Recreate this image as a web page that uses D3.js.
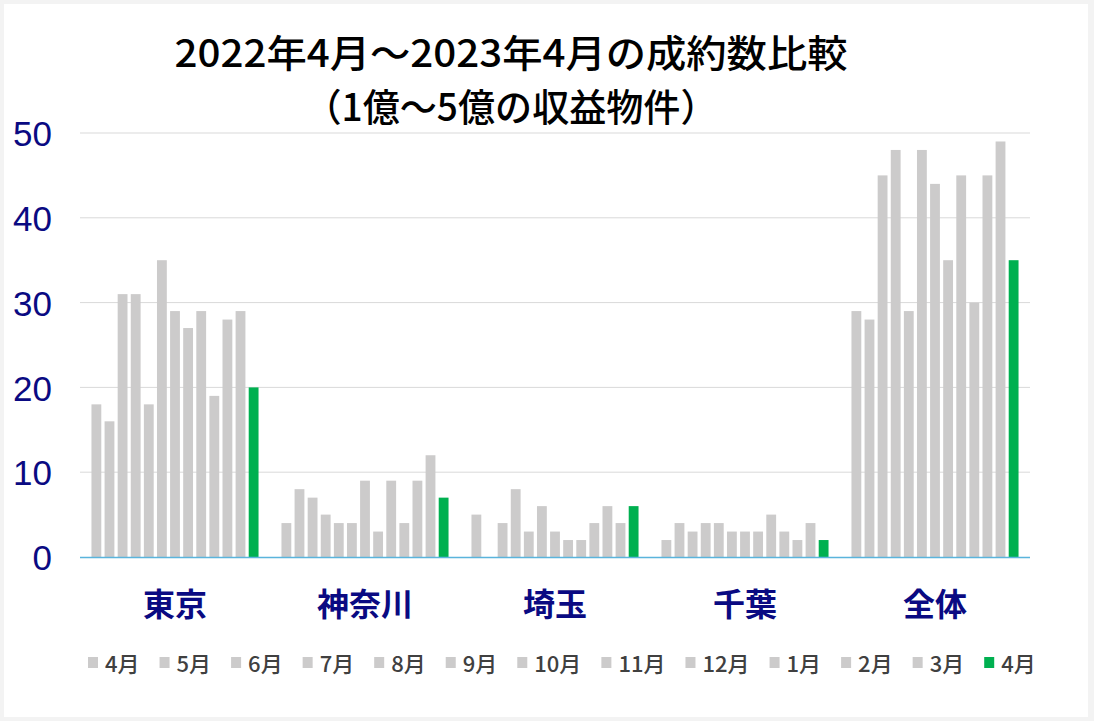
<!DOCTYPE html>
<html><head><meta charset="utf-8">
<script src="https://cdn.jsdelivr.net/npm/d3@7"></script>
<style>
html,body{margin:0;padding:0;background:#f3f3f3;}
svg{display:block;}
</style></head>
<body>
<svg id="c" width="1094" height="721"></svg>
<script>
const categories = ["東京","神奈川","埼玉","千葉","全体"];
const months = ["4月","5月","6月","7月","8月","9月","10月","11月","12月","1月","2月","3月","4月"];
const tokyo    = [18,16,31,31,18,35,29,27,29,19,28,29,20];
const kanagawa = [4,8,7,5,4,4,9,3,9,4,9,12,7];
const saitama  = [5,0,4,8,3,6,3,2,2,4,6,4,6];
const chiba    = [2,4,3,4,4,3,3,3,5,3,2,4,2];
const total    = [29,28,45,48,29,48,44,35,45,30,45,49,35];
const yTicks = [0,10,20,30,40,50];
const titleLines = ["2022年4月～2023年4月の成約数比較","（1億～5億の収益物件）"];

const series = [tokyo,kanagawa,saitama,chiba,total];
const grey = "#cccbcb", green = "#00b050", navy = "#0a0a82";

const svg = d3.select("#c");
svg.append("rect").attr("x",4).attr("y",4).attr("width",1084).attr("height",713).attr("fill","#fff");

const x0 = d3.scaleBand().domain(categories).range([80,1030]);
const x1 = d3.scaleBand().domain(d3.range(months.length)).range([0,x0.bandwidth()]).paddingInner(0.25).paddingOuter(0.875);
const y = d3.scaleLinear().domain([0,50]).range([557,133]);

// gridlines
svg.append("g").selectAll("line").data(yTicks.filter(d=>d>0)).join("line")
  .attr("x1",80).attr("x2",1030).attr("y1",d=>y(d)).attr("y2",d=>y(d))
  .attr("stroke","#d9d9d9").attr("stroke-width",1);

// y labels
const yAxis = d3.axisLeft(y).tickValues(yTicks).tickSize(0).tickPadding(0);
const ga = svg.append("g").attr("transform","translate(52,0)").call(yAxis);
ga.select(".domain").remove();
ga.selectAll("text").attr("fill",navy).style("font-family","'Liberation Sans',Arial,sans-serif")
  .style("font-size","35px").attr("dy","0.36em");

// bars
const groups = svg.append("g").selectAll("g").data(categories).join("g")
  .attr("transform",d=>`translate(${x0(d)},0)`);
groups.selectAll("rect").data((d,i)=>series[i].map((v,j)=>({v,j}))).join("rect")
  .attr("x",d=>x1(d.j)).attr("width",x1.bandwidth())
  .attr("y",d=>y(d.v)).attr("height",d=>y(0)-y(d.v))
  .attr("fill",d=>d.j===months.length-1?green:grey);

// baseline
svg.append("line").attr("x1",80).attr("x2",1030).attr("y1",y(0)+0.5).attr("y2",y(0)+0.5)
  .attr("stroke","#5ab4dc").attr("stroke-width",1.5);

// category labels
svg.append("g").selectAll("text").data(categories).join("text")
  .attr("x",d=>x0(d)+x0.bandwidth()/2).attr("y",616)
  .attr("text-anchor","middle").attr("fill",navy)
  .style("font-family","'Noto Sans CJK JP',sans-serif").style("font-weight","700").style("font-size","32px")
  .text(d=>d);

// title
const tl = [{t:titleLines[0],x:511,y:67,w:673},{t:titleLines[1],x:511,y:121,w:413}];
svg.append("g").selectAll("text").data(tl).join("text")
  .attr("x",d=>d.x).attr("y",d=>d.y).attr("text-anchor","middle")
  .attr("textLength",d=>d.w).attr("lengthAdjust","spacingAndGlyphs")
  .attr("fill","#000").style("font-family","'Noto Sans CJK JP',sans-serif").style("font-weight","500")
  .style("font-size","38px").text(d=>d.t);

// legend
const lg = svg.append("g");
let lx = 88;
months.forEach((m,i)=>{
  lg.append("rect").attr("x",lx).attr("y",657).attr("width",10).attr("height",11)
    .attr("fill",i===months.length-1?green:grey);
  const t = lg.append("text").attr("x",lx+17).attr("y",672)
    .attr("fill","#404040").style("font-family","'Noto Sans CJK JP',sans-serif").style("font-weight","500")
    .style("font-size","22px").text(m);
  const w = t.node().getComputedTextLength();
  lx += 17 + w + 20;
});
</script>
</body></html>
